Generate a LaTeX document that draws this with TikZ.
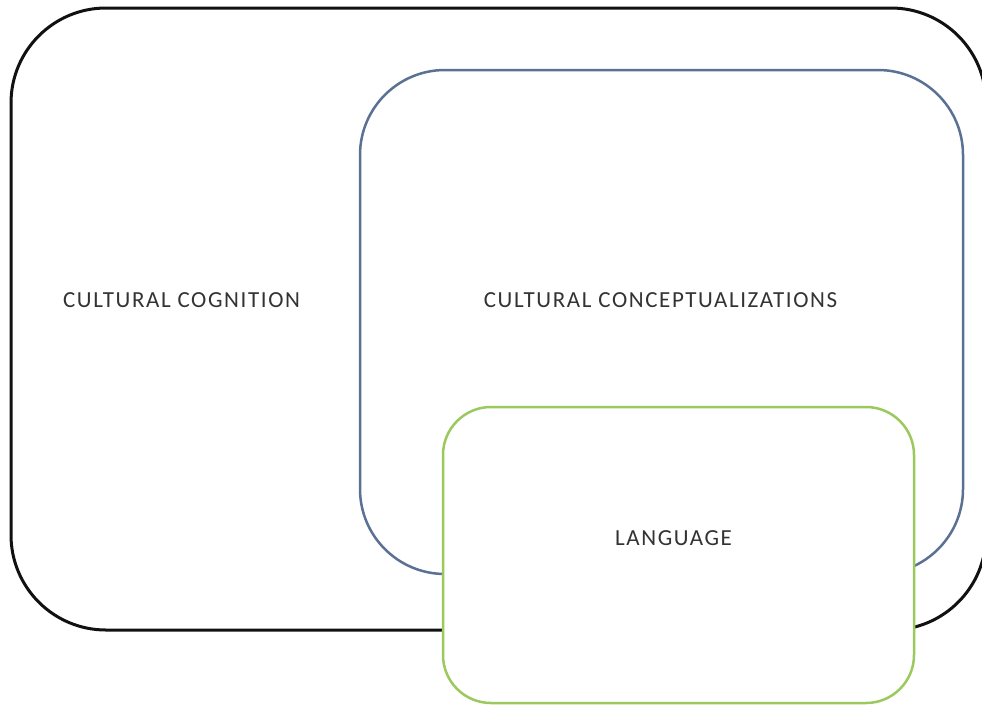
\documentclass[tikz,border=0pt]{standalone}
\usepackage{fontspec}
\setmainfont{Carlito}[LetterSpace=7]
\definecolor{outerc}{HTML}{111111}
\definecolor{bluec}{HTML}{5B7194}
\definecolor{greenc}{HTML}{9BC95E}
\definecolor{textc}{HTML}{333333}
\tikzset{
  lbl/.style={text=textc, font=\fontsize{23}{26}\selectfont, inner sep=0pt, anchor=center},
}
\begin{document}
\begin{tikzpicture}[x=1pt,y=-1pt]
\useasboundingbox (0,0) rectangle (982,705);
\fill[white] (0,0) rectangle (982,705);
\draw[outerc, line width=3pt, rounded corners=95pt] (11,8) rectangle (986,630);
\draw[bluec, line width=2.5pt, rounded corners=85pt] (360,70) rectangle (963,574);
\draw[greenc, line width=2.5pt, fill=white, rounded corners=48pt] (443,407) rectangle (914,703);
\node[lbl] (cog) at (181.5,300) {CULTURAL COGNITION};
\node[lbl] (con) at (660.5,300) {CULTURAL CONCEPTUALIZATIONS};
\node[lbl] (lang) at (673.5,538) {LANGUAGE};
\end{tikzpicture}
\end{document}
